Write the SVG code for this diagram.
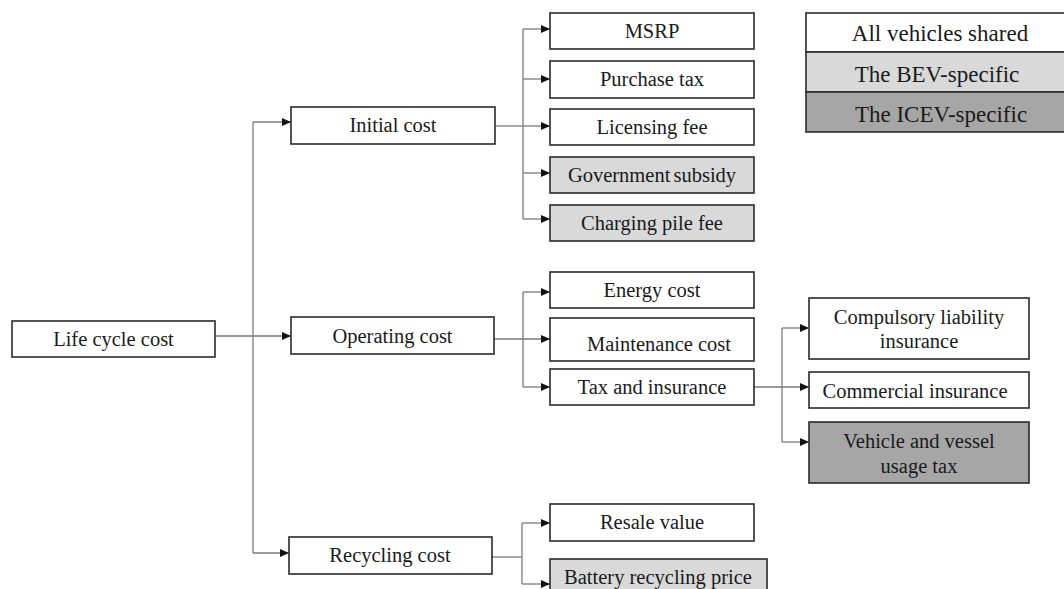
<svg xmlns="http://www.w3.org/2000/svg" width="1064" height="589" viewBox="0 0 1064 589">
<style>
.box{stroke:#2a2a2a;stroke-width:1.6;fill:#ffffff}
.bev{fill:#d9d9d9}
.icev{fill:#a6a6a6}
.t{font-family:"Liberation Serif","Times New Roman",serif;font-size:20.5px;fill:#1a1a1a;text-anchor:middle}
.lg{font-size:23px}
.c{stroke:#7a7a7a;stroke-width:1.3;fill:none}
</style>
<defs>
<marker id="ah" markerWidth="9" markerHeight="8" refX="9" refY="4" orient="auto" markerUnits="userSpaceOnUse">
<path d="M0,0 L9,4 L0,8 Z" fill="#111"/>
</marker>
</defs>
<rect width="1064" height="589" fill="#ffffff"/>
<g id="connectors">
<path class="c" d="M215,336 H291" marker-end="url(#ah)"/>
<path class="c" d="M253,122 V553"/>
<path class="c" d="M253,122 H291" marker-end="url(#ah)"/>
<path class="c" d="M253,553 H289" marker-end="url(#ah)"/>
<path class="c" d="M495,126 H523"/>
<path class="c" d="M523,29 V219"/>
<path class="c" d="M523,29 H550" marker-end="url(#ah)"/>
<path class="c" d="M523,79 H550" marker-end="url(#ah)"/>
<path class="c" d="M523,126 H550" marker-end="url(#ah)"/>
<path class="c" d="M523,173 H550" marker-end="url(#ah)"/>
<path class="c" d="M523,219 H550" marker-end="url(#ah)"/>
<path class="c" d="M494,339 H550" marker-end="url(#ah)"/>
<path class="c" d="M523,292 V387"/>
<path class="c" d="M523,292 H550" marker-end="url(#ah)"/>
<path class="c" d="M523,387 H550" marker-end="url(#ah)"/>
<path class="c" d="M754,387 H809" marker-end="url(#ah)"/>
<path class="c" d="M782,328 V442"/>
<path class="c" d="M782,328 H809" marker-end="url(#ah)"/>
<path class="c" d="M782,442 H809" marker-end="url(#ah)"/>
<path class="c" d="M492,557 H522"/>
<path class="c" d="M522,523 V584"/>
<path class="c" d="M522,523 H550" marker-end="url(#ah)"/>
<path class="c" d="M522,584 H550" marker-end="url(#ah)"/>
</g>
<g id="life-cycle-cost"><rect class="box" x="12" y="321" width="203" height="36"/><text class="t" x="113.5" y="346">Life cycle cost</text></g>
<g id="initial-cost"><rect class="box" x="291" y="107" width="204" height="37"/><text class="t" x="393" y="132">Initial cost</text></g>
<g id="operating-cost"><rect class="box" x="291" y="317" width="203" height="37"/><text class="t" x="392.5" y="343">Operating cost</text></g>
<g id="recycling-cost"><rect class="box" x="289" y="537" width="203" height="37"/><text class="t" x="390" y="562">Recycling cost</text></g>
<g id="msrp"><rect class="box" x="550" y="13" width="204" height="36"/><text class="t" x="652" y="38">MSRP</text></g>
<g id="purchase-tax"><rect class="box" x="550" y="61" width="204" height="37"/><text class="t" x="652" y="86">Purchase tax</text></g>
<g id="licensing-fee"><rect class="box" x="550" y="109" width="204" height="36"/><text class="t" x="652" y="134">Licensing fee</text></g>
<g id="government-subsidy"><rect class="box bev" x="550" y="157" width="204" height="36"/><text class="t" x="652" y="182" word-spacing="-2">Government subsidy</text></g>
<g id="charging-pile-fee"><rect class="box bev" x="550" y="205" width="204" height="36"/><text class="t" x="652" y="230">Charging pile fee</text></g>
<g id="energy-cost"><rect class="box" x="550" y="272" width="204" height="36"/><text class="t" x="652" y="297">Energy cost</text></g>
<g id="maintenance-cost"><rect class="box" x="550" y="318" width="204" height="43"/><text class="t" x="659" y="351">Maintenance cost</text></g>
<g id="tax-and-insurance"><rect class="box" x="550" y="369" width="204" height="36"/><text class="t" x="652" y="394">Tax and insurance</text></g>
<g id="compulsory-liability-insurance"><rect class="box" x="809" y="298" width="220" height="61"/><text class="t" x="919" y="324">Compulsory liability</text><text class="t" x="919" y="348">insurance</text></g>
<g id="commercial-insurance"><rect class="box" x="809" y="372" width="220" height="36"/><text class="t" x="915" y="398">Commercial insurance</text></g>
<g id="vehicle-and-vessel-usage-tax"><rect class="box icev" x="809" y="422" width="220" height="61"/><text class="t" x="919" y="448">Vehicle and vessel</text><text class="t" x="919" y="473">usage tax</text></g>
<g id="resale-value"><rect class="box" x="550" y="504" width="204" height="37"/><text class="t" x="652" y="529">Resale value</text></g>
<g id="battery-recycling-price"><rect class="box bev" x="550" y="559" width="217" height="40"/><text class="t" x="658" y="584">Battery recycling price</text></g>
<g id="legend">
<rect class="box" x="806" y="13" width="270" height="39"/>
<rect class="box bev" x="806" y="52" width="270" height="40"/>
<rect class="box icev" x="806" y="92" width="270" height="40"/>
<text class="t lg" x="940" y="41">All vehicles shared</text>
<text class="t lg" x="937" y="82">The BEV-specific</text>
<text class="t lg" x="941" y="122">The ICEV-specific</text>
</g>
</svg>
